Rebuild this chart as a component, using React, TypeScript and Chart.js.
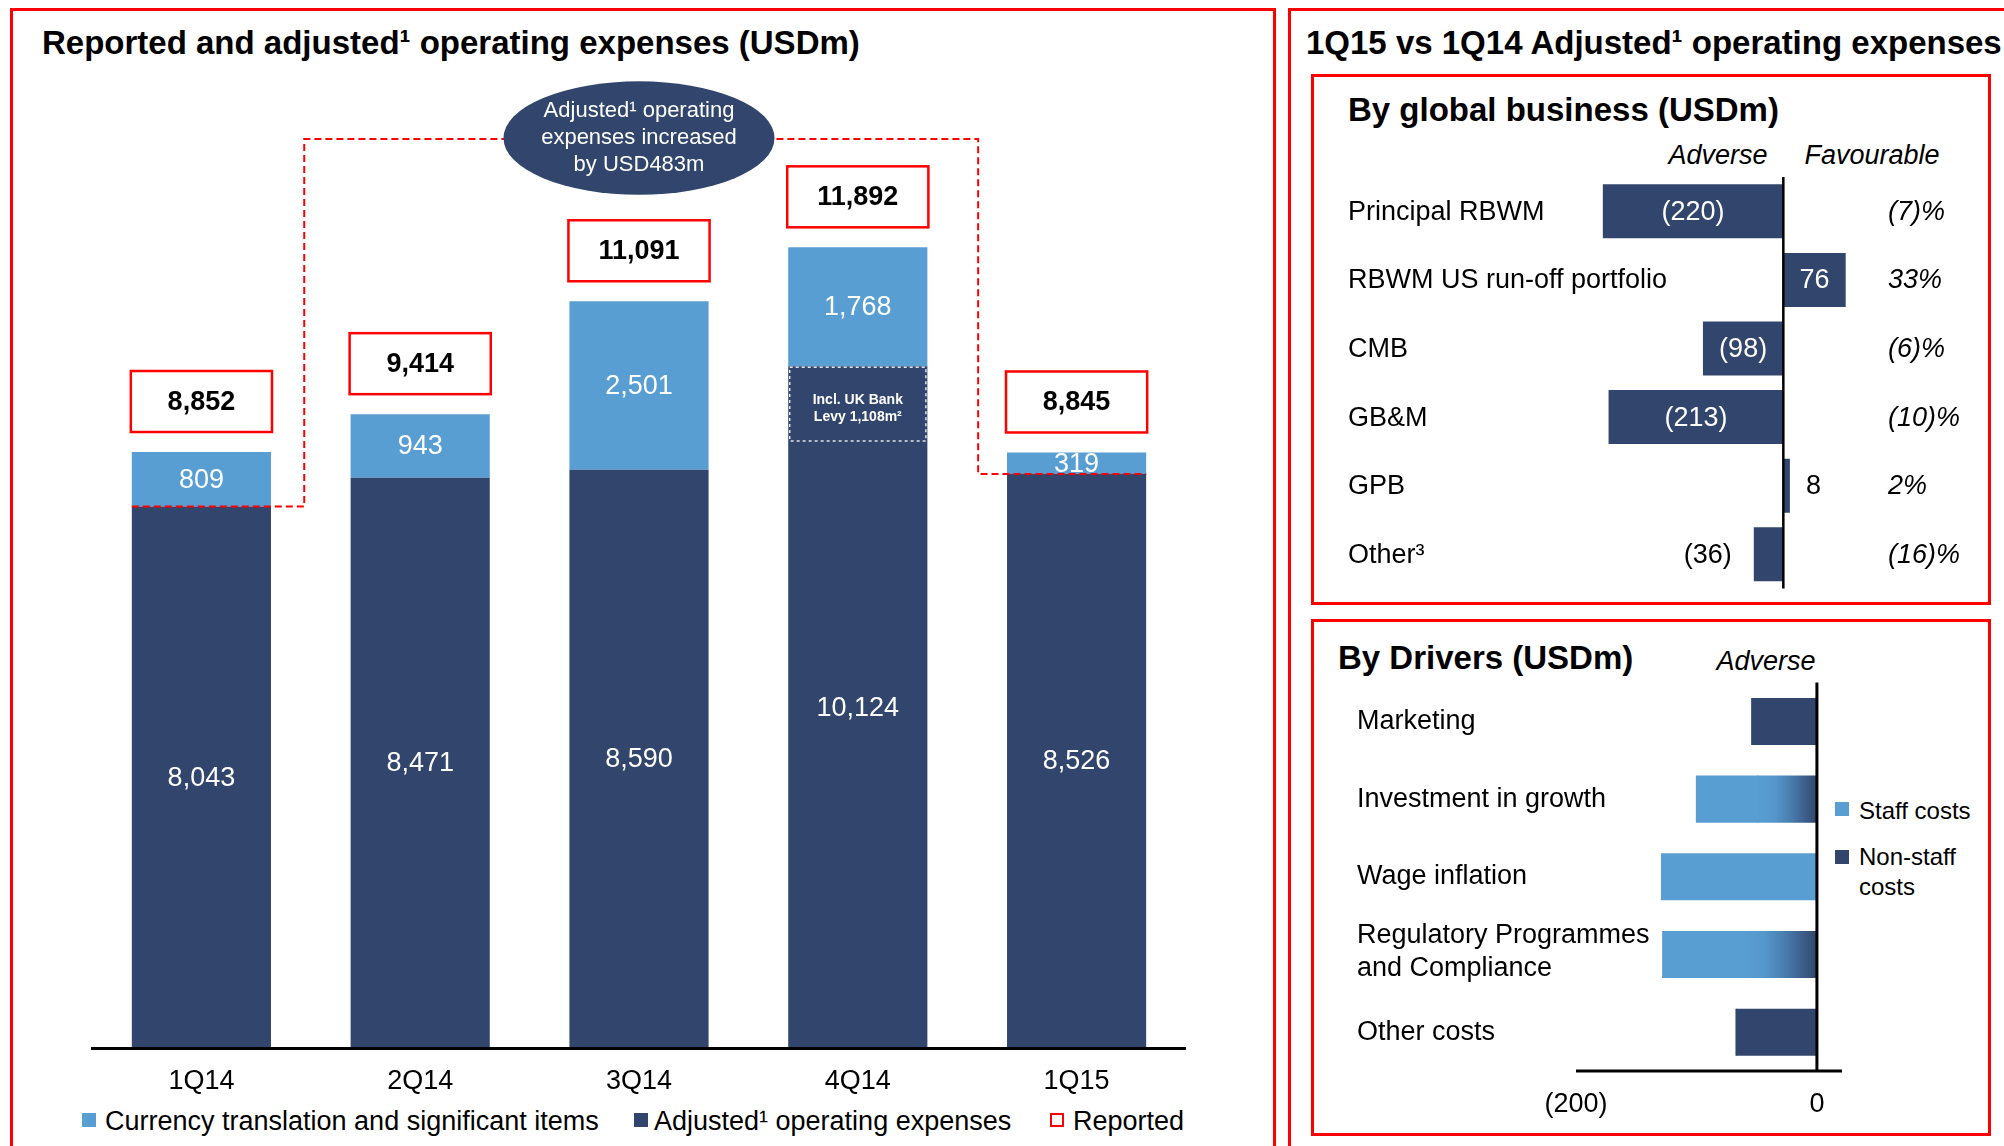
import React, { useEffect, useRef } from 'react';
import { Chart, registerables } from 'chart.js';

Chart.register(...registerables);

const FONT = "'Liberation Sans', Arial, Helvetica, sans-serif";
const DARK = '#32466D';
const LIGHT = '#589ED3';
const RED = '#FF0000';
const W = 2004;
const H = 1146;

// ---- Left chart: reported and adjusted operating expenses (USDm)
const quarters = ['1Q14', '2Q14', '3Q14', '4Q14', '1Q15'];
const adjustedOpex = [8043, 8471, 8590, 10124, 8526];
const currencySignificant = [809, 943, 2501, 1768, 319];
const reportedOpex = [8852, 9414, 11091, 11892, 8845];
const bankLevy4Q14 = 1108;
const bankLevyIndex = 3;
const adjustedIncrease = 483;
const connectorLevel = 13500;
const leftYMax = 14000;

// ---- Right top: by global business (USDm)
const businesses = ['Principal RBWM', 'RBWM US run-off portfolio', 'CMB', 'GB&M', 'GPB', 'Other³'];
const businessChange = [-220, 76, -98, -213, 8, -36];
const businessPct = ['(7)%', '33%', '(6)%', '(10)%', '2%', '(16)%'];
const businessXMin = -260;
const businessXMax = 130;

// ---- Right bottom: by drivers (USDm)
const drivers = [['Marketing'], ['Investment in growth'], ['Wage inflation'], ['Regulatory Programmes', 'and Compliance'], ['Other costs']];
const nonStaffCosts = [-54, -49, 0, -61, -67];
const staffCosts = [0, -51, -129, -67, 0];
const driverTicks = [-200, 0];
const driverXMin = -200;
const driverXMax = 20;

const fmt = (n: number) => n.toLocaleString('en-US');
const paren = (n: number) => (n < 0 ? `(${fmt(Math.abs(n))})` : fmt(n));

const leftDecor = {
  id: 'leftDecor',
  afterDatasetsDraw(chart: any) {
    const { ctx, chartArea } = chart;
    const x = chart.scales.x;
    const y = chart.scales.y;
    const meta = chart.getDatasetMeta(0);
    const y0 = y.getPixelForValue(0);
    ctx.save();
    ctx.textAlign = 'center';
    ctx.textBaseline = 'middle';

    // connector (dashed red)
    const b0 = meta.data[0];
    const b4 = meta.data[4];
    const xL = x.getPixelForValue(0) + 0.47 * (x.getPixelForValue(1) - x.getPixelForValue(0));
    const xR = x.getPixelForValue(3) + 0.55 * (x.getPixelForValue(4) - x.getPixelForValue(3));
    const yT = y.getPixelForValue(connectorLevel);
    const yA = y.getPixelForValue(adjustedOpex[0]);
    const yB = y.getPixelForValue(adjustedOpex[4]);
    ctx.strokeStyle = RED;
    ctx.lineWidth = 2;
    ctx.setLineDash([7, 4]);
    ctx.beginPath();
    ctx.moveTo(b0.x - b0.width / 2, yA);
    ctx.lineTo(xL, yA);
    ctx.lineTo(xL, yT);
    ctx.lineTo(xR, yT);
    ctx.lineTo(xR, yB);
    ctx.lineTo(b4.x + b4.width / 2, yB);
    ctx.stroke();
    ctx.setLineDash([]);

    // ellipse callout
    const ex = x.getPixelForValue(2);
    const ey = yT - 1;
    ctx.fillStyle = DARK;
    ctx.beginPath();
    ctx.ellipse(ex, ey, 135.5, 56.7, 0, 0, Math.PI * 2);
    ctx.fill();
    ctx.fillStyle = '#fff';
    ctx.font = `22px ${FONT}`;
    ['Adjusted¹ operating', 'expenses increased', `by USD${adjustedIncrease}m`].forEach((l, k) => {
      ctx.fillText(l, ex, ey + (k - 1) * 26.7);
    });

    // axis line
    ctx.strokeStyle = '#000';
    ctx.lineWidth = 3;
    ctx.beginPath();
    ctx.moveTo(chartArea.left - 1, y0 + 0.5);
    ctx.lineTo(chartArea.right, y0 + 0.5);
    ctx.stroke();

    // category labels
    ctx.fillStyle = '#000';
    ctx.font = `27px ${FONT}`;
    quarters.forEach((q, i) => ctx.fillText(q, x.getPixelForValue(i), y0 + 34));

    // segment labels
    ctx.fillStyle = '#fff';
    adjustedOpex.forEach((v, i) => {
      const cx = x.getPixelForValue(i);
      const yv = y.getPixelForValue(v);
      ctx.fillText(fmt(v), cx, (y0 + yv) / 2 + 1);
      const yc = y.getPixelForValue(v + currencySignificant[i]);
      ctx.fillText(fmt(currencySignificant[i]), cx, (yv + yc) / 2 + 1);
    });

    // bank levy box
    const lb = meta.data[bankLevyIndex];
    const lt = y.getPixelForValue(adjustedOpex[bankLevyIndex]);
    const lbt = y.getPixelForValue(adjustedOpex[bankLevyIndex] - bankLevy4Q14);
    ctx.setLineDash([3, 3]);
    ctx.strokeStyle = 'rgba(255,255,255,0.85)';
    ctx.lineWidth = 1.5;
    ctx.strokeRect(lb.x - lb.width / 2 + 1.5, lt + 1, lb.width - 3, lbt - lt - 1);
    ctx.setLineDash([]);
    ctx.font = `bold 14px ${FONT}`;
    ctx.fillStyle = '#fff';
    const lm = (lt + lbt) / 2;
    ctx.fillText('Incl. UK Bank', lb.x, lm - 4);
    ctx.fillText(`Levy ${fmt(bankLevy4Q14)}m²`, lb.x, lm + 13);

    // reported boxes
    reportedOpex.forEach((v, i) => {
      const bar = meta.data[i];
      const w = bar.width + 2;
      const cx = x.getPixelForValue(i);
      const bottom = y.getPixelForValue(v) - 20;
      const h = 61;
      ctx.fillStyle = '#fff';
      ctx.fillRect(cx - w / 2, bottom - h, w, h);
      ctx.strokeStyle = RED;
      ctx.lineWidth = 2.5;
      ctx.strokeRect(cx - w / 2, bottom - h, w, h);
      ctx.fillStyle = '#000';
      ctx.font = `bold 27px ${FONT}`;
      ctx.fillText(fmt(v), cx, bottom - h / 2 + 1);
    });
    ctx.restore();
  },
};

const bizDecor = {
  id: 'bizDecor',
  afterDatasetsDraw(chart: any) {
    const { ctx, chartArea } = chart;
    const x = chart.scales.x;
    const y = chart.scales.y;
    const meta = chart.getDatasetMeta(0);
    const zx = x.getPixelForValue(0);
    ctx.save();
    ctx.strokeStyle = '#000';
    ctx.lineWidth = 2.5;
    ctx.beginPath();
    ctx.moveTo(zx, chartArea.top);
    ctx.lineTo(zx, chartArea.bottom);
    ctx.stroke();
    ctx.textBaseline = 'middle';
    businesses.forEach((name, i) => {
      const cy = y.getPixelForValue(i);
      ctx.font = `27px ${FONT}`;
      ctx.fillStyle = '#000';
      ctx.textAlign = 'left';
      ctx.fillText(name, chartArea.left - 222, cy + 1);
      const v = businessChange[i];
      const bar = meta.data[i];
      const txt = paren(v);
      if (Math.abs(v) >= 50) {
        ctx.fillStyle = '#fff';
        ctx.textAlign = 'center';
        ctx.fillText(txt, (bar.x + bar.base) / 2, cy + 1);
      } else if (v > 0) {
        ctx.fillStyle = '#000';
        ctx.textAlign = 'left';
        ctx.fillText(txt, bar.x + 16, cy + 1);
      } else {
        ctx.fillStyle = '#000';
        ctx.textAlign = 'right';
        ctx.fillText(txt, bar.x - 22, cy + 1);
      }
      ctx.fillStyle = '#000';
      ctx.textAlign = 'left';
      ctx.font = `italic 27px ${FONT}`;
      ctx.fillText(businessPct[i], chartArea.right - 2, cy + 1);
    });
    ctx.restore();
  },
};

const driverDecor = {
  id: 'driverDecor',
  afterDatasetsDraw(chart: any) {
    const { ctx, chartArea } = chart;
    const x = chart.scales.x;
    const y = chart.scales.y;
    const zx = x.getPixelForValue(0);
    ctx.save();
    ctx.strokeStyle = '#000';
    ctx.lineWidth = 3;
    ctx.beginPath();
    ctx.moveTo(zx, chartArea.top);
    ctx.lineTo(zx, chartArea.bottom);
    ctx.stroke();
    ctx.beginPath();
    ctx.moveTo(chartArea.left, chartArea.bottom);
    ctx.lineTo(chartArea.right + 1, chartArea.bottom);
    ctx.stroke();
    ctx.textBaseline = 'middle';
    ctx.font = `27px ${FONT}`;
    ctx.fillStyle = '#000';
    ctx.textAlign = 'center';
    driverTicks.forEach((t) => ctx.fillText(paren(t), x.getPixelForValue(t), chartArea.bottom + 34));
    ctx.textAlign = 'left';
    drivers.forEach((lines, i) => {
      const cy = y.getPixelForValue(i);
      if (lines.length === 1) {
        ctx.fillText(lines[0], chartArea.left - 219, cy);
      } else {
        lines.forEach((l, k) => ctx.fillText(l, chartArea.left - 219, cy - 2 + (k - 0.5) * 33));
      }
    });
    ctx.restore();
  },
};

const T = ({ x, y, size, bold = false, italic = false, align = 'left', color = '#000', children }: any) => (
  <div
    style={{
      position: 'absolute',
      left: x,
      top: y - size * 0.6,
      fontFamily: FONT,
      fontSize: size,
      fontWeight: bold ? 700 : 400,
      fontStyle: italic ? 'italic' : 'normal',
      lineHeight: `${size * 1.2}px`,
      whiteSpace: 'nowrap',
      color,
      transform: align === 'center' ? 'translateX(-50%)' : undefined,
    }}
  >
    {children}
  </div>
);

const Box = ({ x, y, w, h, bw = 3 }: any) => (
  <div
    style={{
      position: 'absolute',
      left: x,
      top: y,
      width: w,
      height: h,
      border: `${bw}px solid ${RED}`,
      boxSizing: 'border-box',
    }}
  />
);

const Swatch = ({ x, y, size = 14, color, outline = false }: any) => (
  <div
    style={{
      position: 'absolute',
      left: x,
      top: y - size / 2,
      width: size,
      height: size,
      boxSizing: 'border-box',
      background: outline ? '#fff' : color,
      border: outline ? `2px solid ${RED}` : 'none',
    }}
  />
);

const canvasStyle: any = { position: 'absolute', left: 0, top: 0, width: W, height: H };

export default function App() {
  const c1 = useRef<HTMLCanvasElement>(null);
  const c2 = useRef<HTMLCanvasElement>(null);
  const c3 = useRef<HTMLCanvasElement>(null);

  useEffect(() => {
    const common: any = {
      responsive: false,
      animation: false,
      devicePixelRatio: 1,
      events: [],
    };
    const noPlugins = { legend: { display: false }, tooltip: { enabled: false }, title: { display: false } };

    const left = new Chart(c1.current!, {
      type: 'bar',
      data: {
        labels: quarters,
        datasets: [
          { label: 'Adjusted¹ operating expenses', data: adjustedOpex, backgroundColor: DARK, barPercentage: 0.636, categoryPercentage: 1 },
          { label: 'Currency translation and significant items', data: currencySignificant, backgroundColor: LIGHT, barPercentage: 0.636, categoryPercentage: 1 },
        ],
      },
      options: {
        ...common,
        layout: { padding: { left: 92, right: W - 1186, top: 105.4, bottom: H - 1048 } },
        scales: {
          x: { display: false, stacked: true },
          y: { display: false, stacked: true, min: 0, max: leftYMax },
        },
        plugins: noPlugins,
      },
      plugins: [leftDecor],
    } as any);

    const biz = new Chart(c2.current!, {
      type: 'bar',
      data: {
        labels: businesses,
        datasets: [{ label: 'Change', data: businessChange, backgroundColor: DARK, barPercentage: 0.787, categoryPercentage: 1 }],
      },
      options: {
        ...common,
        indexAxis: 'y',
        layout: { padding: { left: 1570, right: W - 1890, top: 177, bottom: H - 588.6 } },
        scales: {
          x: { display: false, min: businessXMin, max: businessXMax },
          y: { display: false },
        },
        plugins: noPlugins,
      },
      plugins: [bizDecor],
    } as any);

    const drv = new Chart(c3.current!, {
      type: 'bar',
      data: {
        labels: drivers.map((d) => d.join(' ')),
        datasets: [
          {
            label: 'Non-staff costs',
            data: nonStaffCosts,
            barPercentage: 0.59,
            categoryPercentage: 1,
            inflateAmount: 0.6,
            backgroundColor: (c: any) => {
              const i = c.dataIndex;
              const ch = c.chart;
              if (i === undefined || !staffCosts[i] || !ch.chartArea || !ch.scales.x) return DARK;
              const xs = ch.scales.x;
              const g = ch.ctx.createLinearGradient(xs.getPixelForValue(nonStaffCosts[i]) - 1, 0, xs.getPixelForValue(0), 0);
              g.addColorStop(0, LIGHT);
              g.addColorStop(0.3, '#5597CB');
              g.addColorStop(0.6, '#4779AA');
              g.addColorStop(1, DARK);
              return g;
            },
          },
          { label: 'Staff costs', data: staffCosts, backgroundColor: LIGHT, barPercentage: 0.59, categoryPercentage: 1, inflateAmount: 0.6 },
        ],
      },
      options: {
        ...common,
        indexAxis: 'y',
        layout: { padding: { left: 1576, right: W - 1841, top: 682.6, bottom: H - 1071 } },
        scales: {
          x: { display: false, stacked: true, min: driverXMin, max: driverXMax },
          y: { display: false, stacked: true },
        },
        plugins: noPlugins,
      },
      plugins: [driverDecor],
    } as any);

    return () => {
      left.destroy();
      biz.destroy();
      drv.destroy();
    };
  }, []);

  return (
    <div style={{ position: 'absolute', left: 0, top: 0, width: W, height: H, overflow: 'hidden', background: '#fff' }}>
      {/* panel borders */}
      <Box x={10} y={8} w={1266} h={1200} />
      <Box x={1288} y={8} w={800} h={1200} />
      <Box x={1311} y={74} w={680} h={531} />
      <Box x={1311} y={619} w={680} h={517} />

      {/* titles */}
      <T x={42} y={43} size={33} bold>Reported and adjusted¹ operating expenses (USDm)</T>
      <T x={1306} y={43} size={33} bold>1Q15 vs 1Q14 Adjusted¹ operating expenses</T>
      <T x={1348} y={110} size={33} bold>By global business (USDm)</T>
      <T x={1718} y={155} size={27} italic align="center">Adverse</T>
      <T x={1872} y={155} size={27} italic align="center">Favourable</T>
      <T x={1338} y={658} size={33} bold>By Drivers (USDm)</T>
      <T x={1766} y={661} size={27} italic align="center">Adverse</T>

      {/* drivers legend */}
      <Swatch x={1835} y={809} size={14} color={LIGHT} />
      <T x={1859} y={811} size={24}>Staff costs</T>
      <Swatch x={1835} y={857} size={14} color={DARK} />
      <T x={1859} y={857} size={24}>Non-staff</T>
      <T x={1859} y={887} size={24}>costs</T>

      {/* left legend */}
      <Swatch x={82} y={1120} size={14} color={LIGHT} />
      <T x={105} y={1121} size={27}>Currency translation and significant items</T>
      <Swatch x={634} y={1120} size={14} color={DARK} />
      <T x={654} y={1121} size={27}>Adjusted¹ operating expenses</T>
      <Swatch x={1050} y={1120} size={14} outline />
      <T x={1073} y={1121} size={27}>Reported</T>

      <canvas ref={c1} width={W} height={H} style={canvasStyle} />
      <canvas ref={c2} width={W} height={H} style={canvasStyle} />
      <canvas ref={c3} width={W} height={H} style={canvasStyle} />
    </div>
  );
}
